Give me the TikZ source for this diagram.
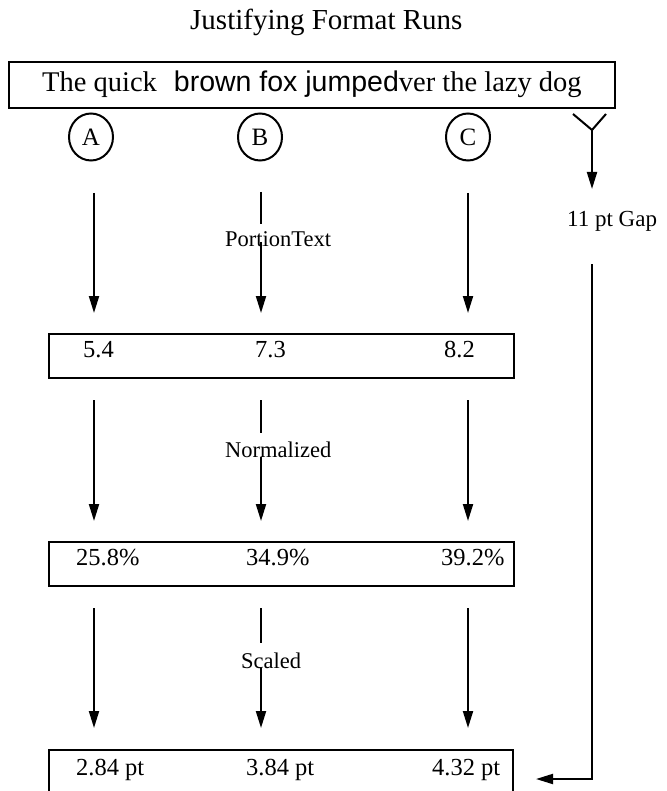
\documentclass[tikz,border=0pt]{standalone}
\usepackage{fontspec}
\setmainfont{Liberation Serif}
\newfontfamily\runsans{Liberation Sans}
\usetikzlibrary{arrows.meta,shapes.geometric}
\newcommand\fsz[1]{\fontsize{#1}{#1}\selectfont}
\begin{document}
\begin{tikzpicture}[x=1pt,y=-1pt,
  frame/.style={draw, line width=2.4pt, inner sep=0pt, anchor=north west},
  txt/.style={inner sep=0pt, anchor=base west},
  runmark/.style={draw, ellipse, line width=2pt, minimum width=44pt, minimum height=47pt, inner sep=0pt, font=\fsz{25}},
  flow/.style={line width=2pt, -{Triangle[length=17pt,width=10pt]}},
  plain/.style={line width=2pt},
  stagelbl/.style={txt, font=\fsz{22.5}},
  val/.style={txt, font=\fsz{24.5}}]
\useasboundingbox (0,0) rectangle (666,791);

% title
\node[txt, font=\fsz{29}] (title) at (190,30) {Justifying Format Runs};

% the text line with its three runs
\node[frame, minimum width=606pt, minimum height=46pt] (linebox) at (8,61) {};
\node[txt, font=\fsz{28.5}] (linetext) at (42,92)
  {The quick\hspace{17pt}{\runsans brown fox jumped}ver the lazy dog};

% run markers
\node[runmark] (runA) at (91,137) {A};
\node[runmark] (runB) at (260,137) {B};
\node[runmark] (runC) at (468,137) {C};

% gap fork
\coordinate (forkL) at (573,114);
\coordinate (forkR) at (606,114);
\coordinate (forkJ) at (592,130);
\coordinate (forkTip) at (592,189);
\draw[plain] (forkL) -- (forkJ) -- (forkR);
\draw[flow] (forkJ) -- (forkTip);
\node[txt, font=\fsz{23}] (gap) at (567,227) {11 pt Gap};
\coordinate (gapTop) at (592,264);
\coordinate (gapCorner) at (592,779);
\coordinate (gapTip) at (536,779);
\draw[flow, line join=miter] (gapTop) -- (gapCorner) -- (gapTip);

% result boxes
\node[frame, minimum width=465pt, minimum height=44pt] (widths) at (48,333) {};
\node[val] (wA) at (83,357) {5.4};
\node[val] (wB) at (255,357) {7.3};
\node[val] (wC) at (444,357) {8.2};

\node[frame, minimum width=465pt, minimum height=44pt] (shares) at (48,541) {};
\node[val] (sA) at (76,565) {25.8\%};
\node[val] (sB) at (246,565) {34.9\%};
\node[val] (sC) at (441,565) {39.2\%};

\node[frame, minimum width=464pt, minimum height=42pt] (gaps) at (48,749) {};
\node[val] (gA) at (76,775) {2.84 pt};
\node[val] (gB) at (246,775) {3.84 pt};
\node[val] (gC) at (432,775) {4.32 pt};

% stage labels
\node[stagelbl] (portion) at (225,247) {PortionText};
\node[stagelbl] (norm) at (225,457) {Normalized};
\node[stagelbl] (scaled) at (241,668) {Scaled};

% stage arrows, columns A and C
\foreach \c/\x in {a/94, c/468} {
  \coordinate (\c1s) at (\x,193); \coordinate (\c1e) at (\x,313);
  \coordinate (\c2s) at (\x,400); \coordinate (\c2e) at (\x,521);
  \coordinate (\c3s) at (\x,608); \coordinate (\c3e) at (\x,728);
  \draw[flow] (\c1s) -- (\c1e);
  \draw[flow] (\c2s) -- (\c2e);
  \draw[flow] (\c3s) -- (\c3e);
}
% column B, broken by the stage labels
\coordinate (b1s) at (261,192); \coordinate (b1m) at (261,224);
\coordinate (b1n) at (261,242); \coordinate (b1e) at (261,313);
\coordinate (b2s) at (261,400); \coordinate (b2m) at (261,433);
\coordinate (b2n) at (261,457); \coordinate (b2e) at (261,521);
\coordinate (b3s) at (261,608); \coordinate (b3m) at (261,643);
\coordinate (b3n) at (261,668); \coordinate (b3e) at (261,728);
\draw[plain] (b1s) -- (b1m);
\draw[flow] (b1n) -- (b1e);
\draw[plain] (b2s) -- (b2m);
\draw[flow] (b2n) -- (b2e);
\draw[plain] (b3s) -- (b3m);
\draw[flow] (b3n) -- (b3e);
\end{tikzpicture}
\end{document}
